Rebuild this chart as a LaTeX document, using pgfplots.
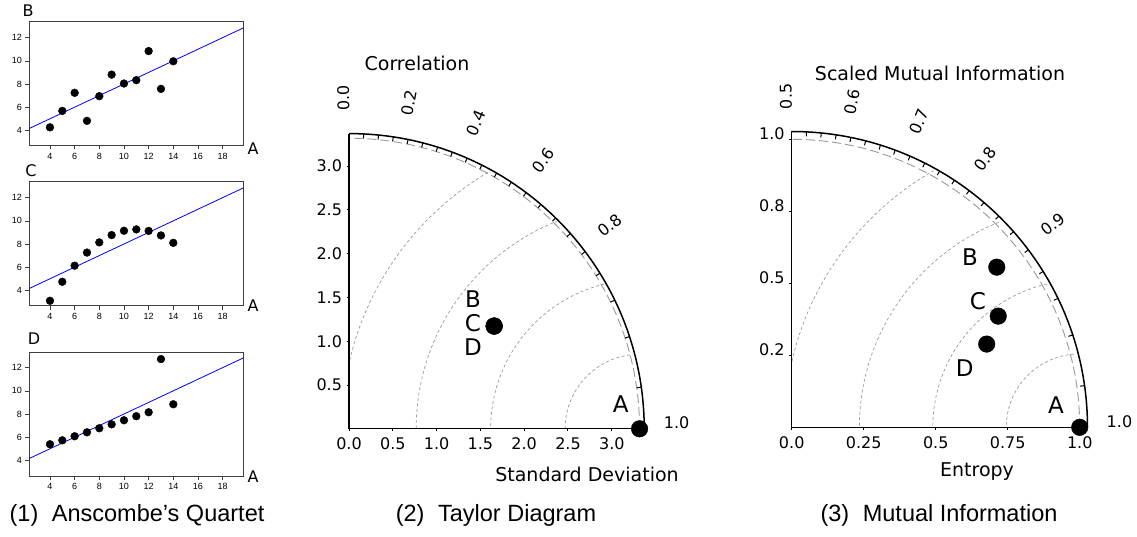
\documentclass[border=0pt]{standalone}
\usepackage{pgfplots}
\pgfplotsset{compat=1.18}
\usepackage{fontspec}
\setmainfont{DejaVu Sans}
\newfontfamily\lib{Liberation Sans}
\definecolor{arcgray}{HTML}{999999}
\begin{document}
\begin{tikzpicture}[x=1pt,y=1pt]
\useasboundingbox (0,0) rectangle (1137,536);
\pgfplotsset{
 ans/.style={scale only axis, width=214pt, height=124pt, anchor=south west,
   xmin=2.3, xmax=19.65, ymin=2.65, ymax=13.35,
   xtick={4,6,...,18}, ytick={4,6,...,12},
   tick align=outside, xtick pos=bottom, ytick pos=left,
   major tick length=3.5pt,
   tick style={black!75, line width=0.6pt},
   axis line style={black!75, line width=1pt},
   tick label style={font=\lib\fontsize{9}{10}\selectfont},
   /pgf/number format/assume math mode=true},
 polar/.style={scale only axis, clip=false, anchor=south west,
   axis x line=bottom, axis y line=left,
   axis line style={-, line width=1.3pt, black},
   tick align=outside, major tick length=2.5pt,
   tick style={black, line width=1pt},
   tick label style={font=\fontsize{16}{18}\selectfont},
   xticklabel style={yshift=-3pt},
   yticklabel style={xshift=-1pt}},
}
% ---------------- Anscombe panels ----------------
\begin{axis}[ans, at={(29pt,390pt)}]
\addplot[only marks, mark=*, mark size=3.9pt, black] coordinates {
(10,8.04) (8,6.95) (13,7.58) (9,8.81) (11,8.33) (14,9.96) (6,7.24) (4,4.26) (12,10.84) (7,4.82) (5,5.68)};
\addplot[blue, line width=0.8pt] coordinates {(2.3,4.15) (19.65,12.825)};
\end{axis}
\begin{axis}[ans, at={(29pt,230pt)}]
\addplot[only marks, mark=*, mark size=3.9pt, black] coordinates {
(10,9.14) (8,8.14) (13,8.74) (9,8.77) (11,9.26) (14,8.10) (6,6.13) (4,3.10) (12,9.13) (7,7.26) (5,4.74)};
\addplot[blue, line width=0.8pt] coordinates {(2.3,4.15) (19.65,12.825)};
\end{axis}
\begin{axis}[ans, at={(29pt,60pt)}]
\addplot[only marks, mark=*, mark size=3.9pt, black] coordinates {
(10,7.46) (8,6.77) (13,12.74) (9,7.11) (11,7.81) (14,8.84) (6,6.08) (4,5.39) (12,8.15) (7,6.42) (5,5.73)};
\addplot[blue, line width=0.8pt] coordinates {(2.3,4.15) (19.65,12.825)};
\end{axis}
\node[font=\fontsize{16}{18}\selectfont] at (28,525) {B};
\node[font=\fontsize{16}{18}\selectfont] at (31,365) {C};
\node[font=\fontsize{16}{18}\selectfont] at (34,197) {D};
\node[font=\fontsize{16}{18}\selectfont] at (253,387) {A};
\node[font=\fontsize{16}{18}\selectfont] at (253,230) {A};
\node[font=\fontsize{16}{18}\selectfont] at (253,59) {A};
% ---------------- Taylor diagram ----------------
\begin{scope}[shift={(349pt,107.2pt)}, x=87.6pt, y=87.6pt]
  \begin{scope}
    \clip (0,0) -- (3.35,0) arc[start angle=0,end angle=90,radius=3.35] -- cycle;
    \foreach \rr in {0.85,1.7,2.55,3.4}
      \draw[arcgray, line width=0.7pt, dash pattern=on 3pt off 2.5pt] (3.317,0) circle[radius=\rr];
  \end{scope}
  \draw[arcgray, line width=0.9pt, dash pattern=on 9pt off 4pt] (3.317,0) arc[start angle=0,end angle=90,radius=3.317];
  \draw[black, line width=1.5pt] (3.37,0) arc[start angle=0,end angle=90,radius=3.37];
  \foreach \cv in {0.05,0.1,0.15,0.2,0.25,0.3,0.35,0.4,0.45,0.5,0.55,0.6,0.65,0.7,0.75,0.8,0.85,0.9,0.95,0.99}{
    \pgfmathsetmacro\aa{acos(\cv)}
    \draw[line width=1pt] (\aa:3.37) -- ++(\aa+180:4.5pt);}
  \foreach \cv/\ll in {0/0.0,0.2/0.2,0.4/0.4,0.6/0.6,0.8/0.8}{
    \pgfmathsetmacro\aa{acos(\cv)+1}
    \node[rotate=\aa, font=\fontsize{16}{18}\selectfont] at (\aa:3.78) {\ll};}
  \node[font=\fontsize{16}{18}\selectfont] at (3.74,0.07) {1.0};
\end{scope}
\begin{axis}[polar, at={(349pt,107.2pt)}, width=295.2pt, height=295.2pt,
  xmin=0, xmax=3.37, ymin=0, ymax=3.37,
  xtick={0,0.5,1,1.5,2,2.5,3}, xticklabels={0.0,0.5,1.0,1.5,2.0,2.5,3.0},
  ytick={0.5,1,1.5,2,2.5,3}, yticklabels={0.5,1.0,1.5,2.0,2.5,3.0}]
\addplot[only marks, mark=*, mark size=8.3pt, black] coordinates {(3.317,0) (1.657,1.173) (1.657,1.173) (1.657,1.173)};
\end{axis}
\node[font=\fontsize{23}{26}\selectfont] at (473,237.3) {B};
\node[font=\fontsize{23}{26}\selectfont] at (473,212.7) {C};
\node[font=\fontsize{23}{26}\selectfont] at (473,189) {D};
\node[font=\fontsize{23}{26}\selectfont] at (620.7,132) {A};
\node[font=\fontsize{19}{22}\selectfont] at (417,473) {Correlation};
\node[font=\fontsize{19}{22}\selectfont] at (587,62) {Standard Deviation};
% ---------------- Mutual information ----------------
\begin{scope}[shift={(791.7pt,108.7pt)}, x=288pt, y=288pt]
  \begin{scope}
    \clip (0,0) -- (1.017,0) arc[start angle=0,end angle=90,radius=1.017] -- cycle;
    \foreach \rr in {0.255,0.51,0.765,1.025}
      \draw[arcgray, line width=0.7pt, dash pattern=on 3pt off 2.5pt] (1,0) circle[radius=\rr];
  \end{scope}
  \draw[arcgray, line width=0.9pt, dash pattern=on 9pt off 4pt] (1,0) arc[start angle=0,end angle=90,radius=1];
  \draw[black, line width=1.5pt] (1.027,0) arc[start angle=0,end angle=90,radius=1.027];
  \foreach \cv in {0.05,0.1,0.15,0.2,0.25,0.3,0.35,0.4,0.45,0.5,0.55,0.6,0.65,0.7,0.75,0.8,0.85,0.9,0.95,0.99}{
    \pgfmathsetmacro\aa{acos(\cv)}
    \draw[line width=1pt] (\aa:1.027) -- ++(\aa+180:4.5pt);}
  \foreach \cv/\ll in {0/0.5,0.2/0.6,0.4/0.7,0.6/0.8,0.8/0.9}{
    \pgfmathsetmacro\aa{acos(\cv)+1}
    \node[rotate=\aa, font=\fontsize{16}{18}\selectfont] at (\aa:1.149) {\ll};}
  \node[font=\fontsize{16}{18}\selectfont] at (1.138,0.021) {1.0};
\end{scope}
\begin{axis}[polar, at={(791.7pt,108.7pt)}, width=295.8pt, height=295.8pt,
  xmin=0, xmax=1.027, ymin=0, ymax=1.027,
  xtick={0,0.25,0.5,0.75,1}, xticklabels={0.0,0.25,0.5,0.75,1.0},
  ytick={0.25,0.5,0.75,1}, yticklabels={0.2,0.5,0.8,1.0},
  yticklabel style={yshift=6pt}]
\addplot[only marks, mark=*, mark size=8.3pt, black] coordinates {(1.0,0) (0.712,0.556) (0.717,0.386) (0.677,0.289)};
\end{axis}
\node[font=\fontsize{23}{26}\selectfont] at (970,279) {B};
\node[font=\fontsize{23}{26}\selectfont] at (978,235) {C};
\node[font=\fontsize{23}{26}\selectfont] at (964.7,168) {D};
\node[font=\fontsize{23}{26}\selectfont] at (1056,131) {A};
\node[font=\fontsize{19}{22}\selectfont] at (940,463) {Scaled Mutual Information};
\node[font=\fontsize{19}{22}\selectfont] at (977,64) {Entropy};
% ---------------- captions ----------------
\node[font=\lib\fontsize{23.5}{26}\selectfont] at (137,21) {(1)\hspace{0.3em} Anscombe’s Quartet};
\node[font=\lib\fontsize{23.5}{26}\selectfont] at (496,21) {(2)\hspace{0.3em} Taylor Diagram};
\node[font=\lib\fontsize{23.5}{26}\selectfont] at (939,21) {(3)\hspace{0.3em} Mutual Information};
\end{tikzpicture}
\end{document}
